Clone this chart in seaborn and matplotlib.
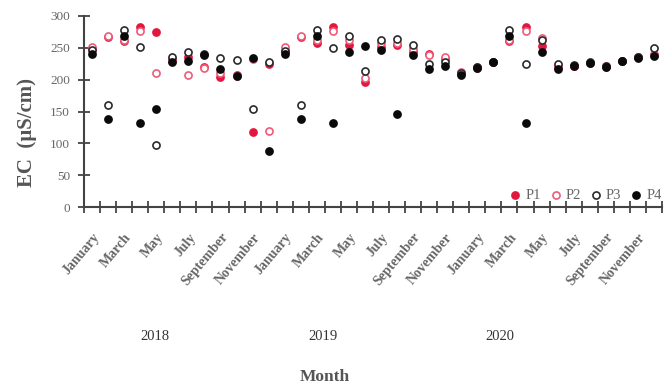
import numpy as np
import pandas as pd
import matplotlib
matplotlib.use("Agg")
import matplotlib.pyplot as plt
import seaborn as sns

months = ["January", "February", "March", "April", "May", "June", "July",
          "August", "September", "October", "November", "December"]
years = ["2018", "2019", "2020"]

p1 = [248, 267, 260, 283, 275, 233, 236, 220, 205, 208, 118, 224,
      245, 267, 258, 283, 254, 197, 252, 255, 243, 241, 233, 211,
      219, 227, 260, 283, 253, 220, 222, 226, 220, 229, 235, 238]
p2 = [252, 268, 263, 276, 210, 230, 208, 218, 210, 206, 232, 119,
      251, 268, 262, 276, 262, 202, 258, 258, 248, 238, 235, 212,
      220, 228, 262, 276, 266, 221, 222, 226, 221, 229, 235, 240]
p3 = [246, 161, 278, 252, 98, 235, 244, 241, 234, 231, 154, 228,
      245, 161, 278, 250, 268, 213, 262, 264, 254, 225, 228, 210,
      220, 228, 278, 224, 262, 224, 223, 227, 221, 230, 236, 249]
p4 = [240, 138, 268, 132, 154, 228, 230, 239, 216, 206, 234, 88,
      240, 138, 268, 132, 244, 253, 246, 146, 238, 216, 222, 208,
      219, 227, 268, 132, 244, 217, 221, 226, 220, 229, 234, 237]

series = {"P1": p1, "P2": p2, "P3": p3, "P4": p4}
styles = {
    "P1": dict(facecolor="#e3173e", edgecolor="#e3173e"),
    "P2": dict(facecolor="white", edgecolor="#ef5a78"),
    "P3": dict(facecolor="white", edgecolor="#2a2a2a"),
    "P4": dict(facecolor="#0a0a0a", edgecolor="#0a0a0a"),
}

n = len(months) * len(years)
pos = np.arange(n) + 0.5
df = pd.concat([pd.DataFrame({"pos": pos, "EC": v, "site": k})
                for k, v in series.items()], ignore_index=True)

sns.set_style("white")
plt.rcParams["font.family"] = ["Liberation Serif", "DejaVu Serif"]

fig = plt.figure(figsize=(6.7, 3.9), dpi=100)
ax = fig.add_axes([0.1254, 0.469, 0.8626, 0.49])

for name in series:
    sub = df[df["site"] == name]
    sns.scatterplot(data=sub, x="pos", y="EC", ax=ax, marker="o", s=26,
                    linewidth=1.2, label=name, **styles[name])

ax.set_xlim(0, n)
ax.set_ylim(0, 300)
ax.set_yticks(np.arange(0, 301, 50))
ax.tick_params(axis="y", left=True, direction="inout", length=8, width=1.3,
               color="#444444", labelsize=9.5, labelcolor="#666666", pad=6)

# category boundaries carry the tick marks, labels sit at every other month
ax.set_xticks(np.arange(n + 1), minor=True)
ax.tick_params(axis="x", which="minor", bottom=True, direction="inout",
               length=8, width=1.3, color="#444444")
label_pos = pos[::2]
label_txt = [months[i % 12] for i in range(0, n, 2)]
ax.set_xticks(label_pos)
ax.set_xticklabels(label_txt, rotation=50, ha="right", rotation_mode="anchor",
                   fontsize=10, fontweight="bold", color="#666666")
ax.tick_params(axis="x", which="major", bottom=True, length=0, pad=17)

for side in ["top", "right"]:
    ax.spines[side].set_visible(False)
for side in ["left", "bottom"]:
    ax.spines[side].set_color("#444444")
    ax.spines[side].set_linewidth(1.5)

ax.set_xlabel("")
ax.set_ylabel("EC  (µS/cm)", fontsize=15, fontweight="bold", color="#555555")
ax.yaxis.set_label_coords(-0.082, 0.39)

leg = ax.legend(loc="lower right", ncol=4, frameon=False, fontsize=10.5,
                handlelength=0.8, handletextpad=0.3, columnspacing=0.6,
                borderaxespad=0.1, bbox_to_anchor=(1.012, -0.01),
                labelcolor="#666666")

W, H = 670, 390
for yr, xp in zip(years, [155, 323, 500]):
    fig.text(xp / W, 1 - 337 / H, yr, ha="center", va="center",
             fontsize=10.5, color="#333333")
fig.text(325 / W, 1 - 377 / H, "Month", ha="center", va="center",
         fontsize=12.5, fontweight="bold", color="#555555")

fig.savefig("out.png", dpi=100)
